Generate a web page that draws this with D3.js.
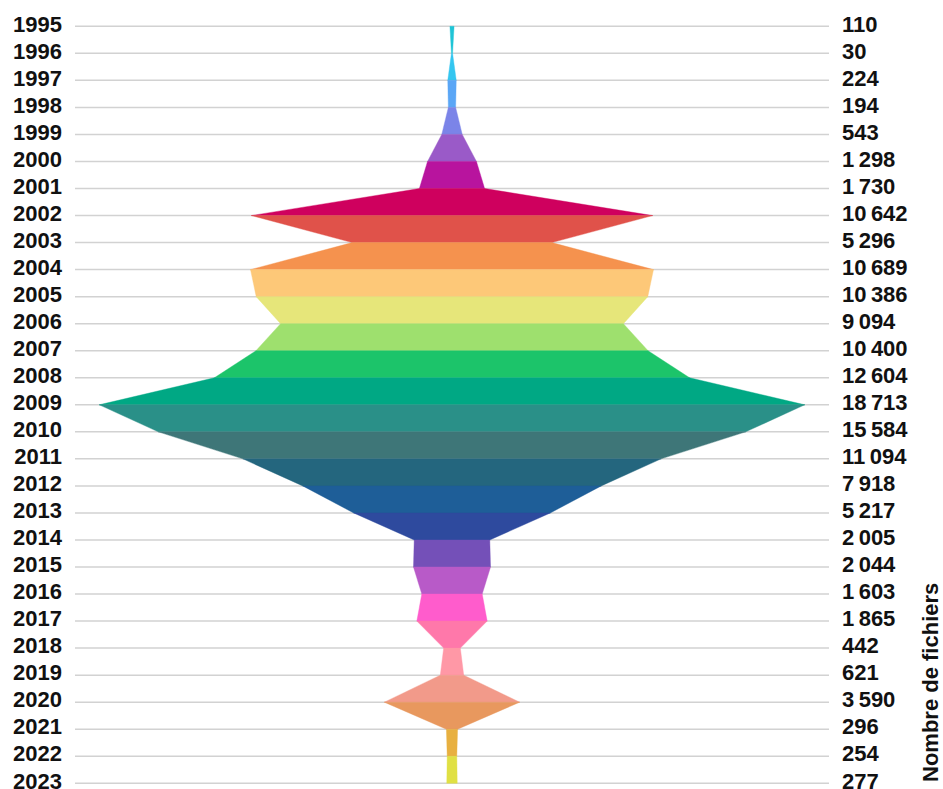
<!DOCTYPE html>
<html>
<head>
<meta charset="utf-8">
<script src="https://cdn.jsdelivr.net/npm/d3@7"></script>
<style>
  html, body { margin: 0; padding: 0; background: #fff; }
  svg { display: block; }
  text { font-family: "Liberation Sans", Arial, sans-serif; font-weight: bold; fill: #111; }
</style>
</head>
<body>
<svg id="chart" width="943" height="789"></svg>
<script>
// Files per year
const years = [1995, 1996, 1997, 1998, 1999, 2000, 2001, 2002, 2003, 2004,
               2005, 2006, 2007, 2008, 2009, 2010, 2011, 2012, 2013, 2014,
               2015, 2016, 2017, 2018, 2019, 2020, 2021, 2022, 2023];
const fileCounts = [110, 30, 224, 194, 543, 1298, 1730, 10642, 5296, 10689,
                    10386, 9094, 10400, 12604, 18713, 15584, 11094, 7918, 5217, 2005,
                    2044, 1603, 1865, 442, 621, 3590, 296, 254, 277];
// One colour per band between two consecutive years
const bandColors = ["#1fc4d6", "#34c6f0", "#5aa6f6", "#7b84e8", "#9a5ac8", "#b8149e", "#cf005e",
                    "#e0524a", "#f5924e", "#fdc878", "#e6e67a", "#9ee06e", "#1cc46a", "#00a884",
                    "#2a9088", "#3e7678", "#24667e", "#1e5e98", "#2e4a9e", "#7450b8", "#b85ac8",
                    "#ff5ccc", "#ff78aa", "#ff98a6", "#f29a8a", "#e8985e", "#e8b040", "#e0e044"];
const axisTitle = "Nombre de fichiers";

const svg = d3.select("#chart");
const gridLeft = 75, gridRight = 829;

const y = d3.scalePoint().domain(years).range([26.3, 783.3]);
const x = d3.scaleLinear().domain([-20000, 20000]).range([gridLeft, gridRight]);

const fmt = d3.formatLocale({ decimal: ",", thousands: "\u202f", grouping: [3], currency: ["", " €"] }).format(",d");

const rows = years.map((yr, i) => ({ year: yr, value: fileCounts[i] }));

// Horizontal guide lines
svg.append("g").selectAll("line").data(rows).join("line")
  .attr("x1", gridLeft).attr("x2", gridRight)
  .attr("y1", d => y(d.year)).attr("y2", d => y(d.year))
  .attr("stroke", "#d2d2d2").attr("stroke-width", 1.5);

// Symmetric bands, one trapezoid per pair of years
const area = d3.area()
  .y(d => y(d.year))
  .x0(d => x(-d.value))
  .x1(d => x(d.value))
  .curve(d3.curveLinear);

const bands = d3.pairs(rows);
svg.append("g").selectAll("path").data(bands).join("path")
  .attr("d", d => area(d))
  .attr("fill", (d, i) => bandColors[i])
  .attr("stroke", (d, i) => bandColors[i])
  .attr("stroke-width", 0.4);

// Year labels
svg.append("g").selectAll("text").data(rows).join("text")
  .attr("x", 62).attr("y", d => y(d.year) + 5.2)
  .attr("text-anchor", "end")
  .attr("font-size", 22)
  .text(d => d.year);

// Value labels
svg.append("g").selectAll("text").data(rows).join("text")
  .attr("x", 842).attr("y", d => y(d.year) + 5.2)
  .attr("text-anchor", "start")
  .attr("font-size", 22)
  .text(d => fmt(d.value));

// Axis title, rotated
svg.append("text")
  .attr("transform", "translate(938,782) rotate(-90)")
  .attr("text-anchor", "start")
  .attr("font-size", 22)
  .text(axisTitle);
</script>
</body>
</html>
